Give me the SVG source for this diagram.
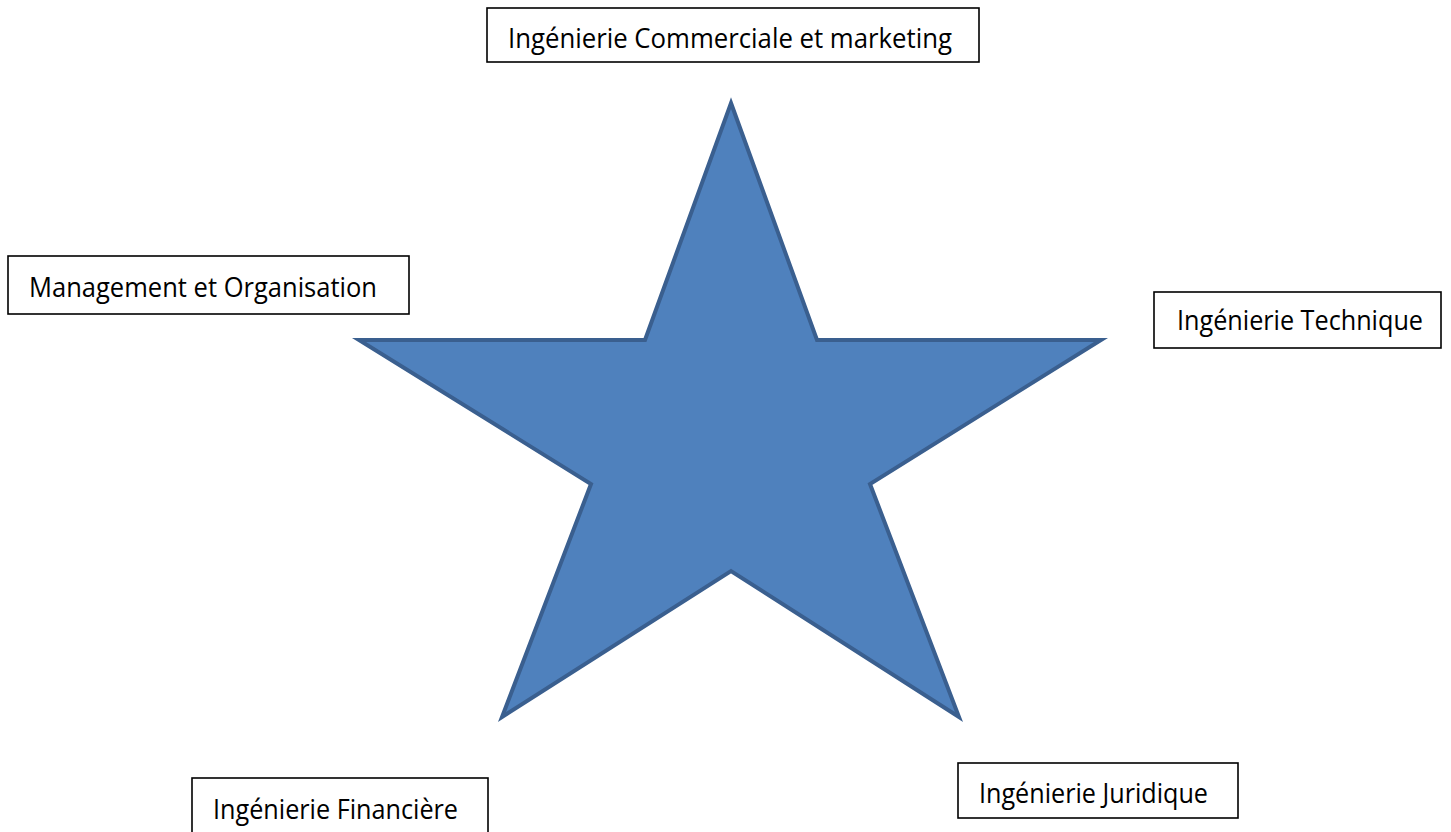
<svg xmlns="http://www.w3.org/2000/svg" width="1451" height="832" viewBox="0 0 1451 832">
<style>
.box{fill:#fff;stroke:#000;stroke-width:1.6}
.lbl{font-family:"Open Sans","Liberation Sans",sans-serif;font-size:27px;fill:#000}
.star{fill:#4F81BD;stroke:#3A5F8F;stroke-width:4;stroke-linejoin:miter}
</style>
<rect width="1451" height="832" fill="#fff"/>
<g id="star">
<polygon class="star" points="731,103 817,340 1101,340 870,484 959,717 731,571 502,717 591,484 359,340 645,340"/>
</g>
<g id="connectors"></g>
<g id="node-commercial">
<rect class="box" x="487" y="8" width="492" height="54"/>
<text class="lbl" x="508" y="48" textLength="444" lengthAdjust="spacingAndGlyphs">Ingénierie Commerciale et marketing</text>
</g>
<g id="node-management">
<rect class="box" x="8" y="256" width="401" height="58"/>
<text class="lbl" x="29" y="297" textLength="348" lengthAdjust="spacingAndGlyphs">Management et Organisation</text>
</g>
<g id="node-technique">
<rect class="box" x="1154" y="292" width="287" height="56"/>
<text class="lbl" x="1177" y="330" textLength="246" lengthAdjust="spacingAndGlyphs">Ingénierie Technique</text>
</g>
<g id="node-financiere">
<rect class="box" x="192" y="778" width="296" height="70"/>
<text class="lbl" x="213" y="819" textLength="245" lengthAdjust="spacingAndGlyphs">Ingénierie Financière</text>
</g>
<g id="node-juridique">
<rect class="box" x="958" y="763" width="280" height="55"/>
<text class="lbl" x="979" y="803" textLength="229" lengthAdjust="spacingAndGlyphs">Ingénierie Juridique</text>
</g>
</svg>
